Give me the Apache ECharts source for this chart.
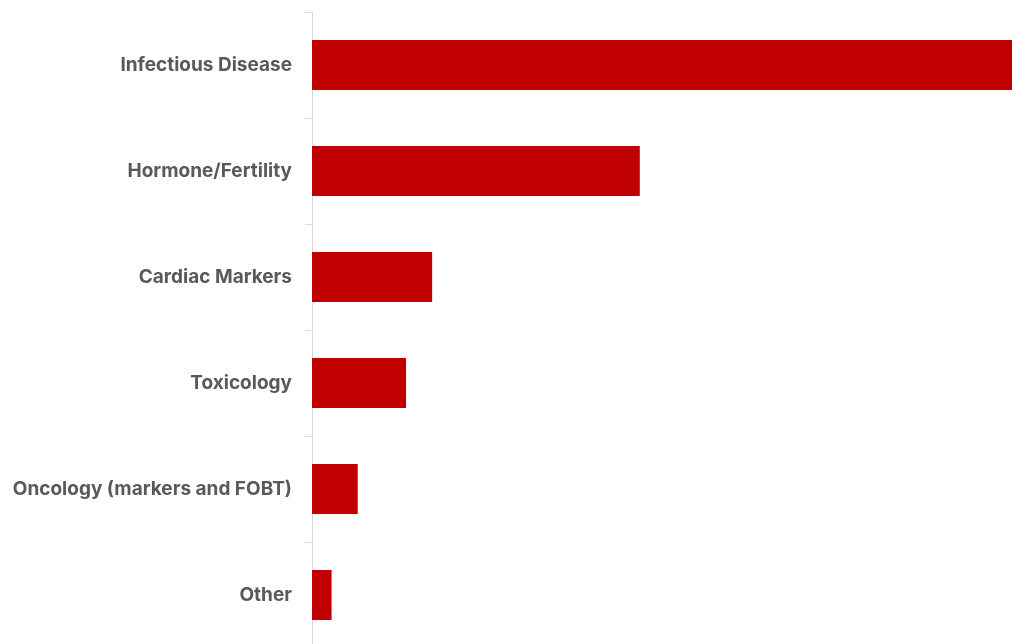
<!DOCTYPE html>
<html>
<head>
<meta charset="utf-8">
<style>
  html, body { margin: 0; padding: 0; background: #ffffff; }
  #chart { width: 1012px; height: 644px; }
</style>
<script src="https://cdn.jsdelivr.net/npm/echarts@6/dist/echarts.min.js"></script>
</head>
<body>
<div id="chart"></div>
<script>
// Test segments, top to bottom
const categories = [
  'Infectious Disease',
  'Hormone/Fertility',
  'Cardiac Markers',
  'Toxicology',
  'Oncology (markers and FOBT)',
  'Other'
];
// Share of testing volume (%)
const shareValues = [53.6, 25.1, 9.2, 7.2, 3.5, 1.5];

const chart = echarts.init(document.getElementById('chart'), null, { renderer: 'canvas' });

chart.setOption({
  animation: false,
  backgroundColor: '#ffffff',
  grid: {
    left: 312, right: 0, top: 12, height: 636,
    containLabel: false,
    outerBoundsMode: 'none'
  },
  xAxis: {
    type: 'value',
    min: 0,
    max: Math.max(...shareValues),
    show: false
  },
  yAxis: {
    type: 'category',
    inverse: true,
    data: categories,
    axisLine: { show: true, lineStyle: { color: '#d9d9d9', width: 1 } },
    axisTick: { show: true, length: 7, lineStyle: { color: '#d9d9d9', width: 1 } },
    axisLabel: {
      margin: 20,
      color: '#595959',
      fontFamily: 'Inter, "Open Sans", sans-serif',
      fontWeight: 'bold',
      fontSize: 19
    },
    splitLine: { show: false }
  },
  series: [{
    type: 'bar',
    data: shareValues,
    barWidth: 50,
    itemStyle: { color: '#c00000' },
    silent: true
  }]
});
</script>
</body>
</html>
